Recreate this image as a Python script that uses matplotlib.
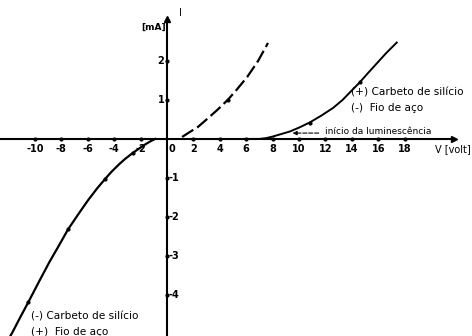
import matplotlib
matplotlib.use("Agg")
import matplotlib.pyplot as plt

# reverse branch: (-) carbeto de silicio / (+) fio de aco
rev_v = [-0.9, -1.2, -1.6, -2.0, -2.6, -3.2, -3.6, -4.2, -4.7, -5.3, -6.0, -6.7,
         -7.5, -8.2, -8.9, -9.7, -10.5, -11.1, -11.7, -11.95]
rev_i = [0.0, -0.05, -0.13, -0.22, -0.36, -0.52, -0.64, -0.84, -1.03, -1.27, -1.58, -1.92,
         -2.32, -2.74, -3.15, -3.66, -4.18, -4.56, -4.95, -5.1]

# dashed branch
dash_v = [1.14, 1.6, 2.35, 3.0, 3.8, 4.6, 5.3, 6.1, 6.9, 7.65]
dash_i = [0.05, 0.15, 0.31, 0.5, 0.74, 1.0, 1.27, 1.6, 2.0, 2.46]

# forward branch: (+) carbeto de silicio / (-) fio de aco
fwd_v = [6.0, 7.0, 7.5, 8.0, 8.6, 9.3, 10.0, 10.8, 11.7, 12.6, 13.3, 13.9,
         14.6, 15.2, 15.9, 16.6, 17.4]
fwd_i = [0.0, 0.0, 0.02, 0.06, 0.12, 0.19, 0.29, 0.42, 0.6, 0.8, 1.0, 1.21,
         1.45, 1.68, 1.94, 2.2, 2.47]

# dots drawn on the curves
dot_v = [-10.5, -7.5, -4.7, -2.6, 4.6, 10.8, 14.6]
dot_i = [-4.18, -2.32, -1.03, -0.36, 1.0, 0.42, 1.45]

x_ticks = [-10, -8, -6, -4, -2, 2, 4, 6, 8, 10, 12, 14, 16, 18]
y_ticks = [-4, -3, -2, -1, 1, 2]

fig = plt.figure(figsize=(4.72, 3.36), dpi=100)
ax = fig.add_axes([0, 0, 1, 1])
ax.set_xlim(-12.65, 23.1)
ax.set_ylim(-5.05, 3.56)
ax.axis("off")

# axes with arrows
ax.plot([-12.65, 21.5], [0, 0], color="black", lw=1.5)
ax.plot([21.7], [0], marker=">", color="black", ms=5)
ax.plot([0, 0], [-5.05, 3.0], color="black", lw=1.5)
ax.plot([0], [3.08], marker="^", color="black", ms=4)

# ticks as dots
ax.plot(x_ticks, [0] * len(x_ticks), "o", color="black", ms=2)
ax.plot([0] * len(y_ticks), y_ticks, "o", color="black", ms=2)

fs = 7
for x in x_ticks:
    ax.text(x, -0.12, str(x), ha="center", va="top", fontsize=fs, fontweight="bold")
ax.text(0.35, -0.12, "0", ha="center", va="top", fontsize=fs, fontweight="bold")
for y in y_ticks:
    if y > 0:
        ax.text(-0.2, y, str(y), ha="right", va="center", fontsize=fs, fontweight="bold")
    else:
        ax.text(0.15, y, str(y), ha="left", va="center", fontsize=fs, fontweight="bold")

ax.text(1.05, 3.22, "I", ha="center", va="center", fontsize=fs)
ax.text(-0.05, 2.85, "[mA]", ha="right", va="center", fontsize=6.5, fontweight="bold")
ax.text(20.3, -0.12, "V [volt]", ha="left", va="top", fontsize=fs)

# curves
ax.plot(rev_v, rev_i, color="black", lw=1.6, solid_joinstyle="round")
ax.plot(dash_v, dash_i, color="black", lw=1.6, ls=(0, (6, 2)))
ax.plot(fwd_v, fwd_i, color="black", lw=1.4, solid_joinstyle="round")
ax.plot(dot_v, dot_i, "o", color="black", ms=2)

# annotation
ax.annotate("", xy=(9.3, 0.15), xytext=(11.7, 0.15),
            arrowprops=dict(arrowstyle="-|>", color="black", lw=0.8, ls="--",
                            mutation_scale=6))
ax.text(12.0, 0.2, "início da luminescência", ha="left", va="center", fontsize=6.5)

ax.text(13.9, 1.18, "(+) Carbeto de silício", ha="left", va="center", fontsize=7.6)
ax.text(13.9, 0.8, "(-)  Fio de aço", ha="left", va="center", fontsize=7.6)
ax.text(-10.3, -4.56, "(-) Carbeto de silício", ha="left", va="center", fontsize=7.6)
ax.text(-10.3, -4.95, "(+)  Fio de aço", ha="left", va="center", fontsize=7.6)

fig.savefig("out.png", dpi=100)
